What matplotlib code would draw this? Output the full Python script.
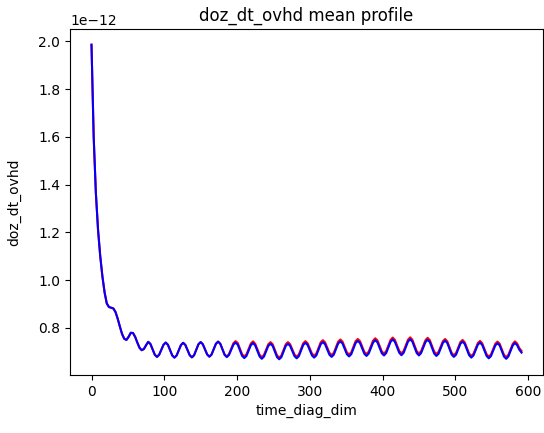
import matplotlib
matplotlib.use("Agg")
import matplotlib.pyplot as plt
import numpy as np

# time axis, one sample every 3 steps
time_diag_dim = np.arange(0, 592, 3)

# mean profiles, in units of 1e-12
blue_profile = [
    1.986, 1.600, 1.365, 1.210, 1.100, 1.015, 0.948, 0.902,
    0.887, 0.884, 0.881, 0.866, 0.838, 0.805, 0.774, 0.754,
    0.749, 0.762, 0.779, 0.778, 0.762, 0.738, 0.716, 0.706,
    0.711, 0.727, 0.741, 0.732, 0.710, 0.687, 0.678, 0.687,
    0.708, 0.729, 0.738, 0.729, 0.707, 0.684, 0.675, 0.684,
    0.706, 0.728, 0.737, 0.728, 0.707, 0.685, 0.676, 0.685,
    0.708, 0.731, 0.740, 0.731, 0.710, 0.688, 0.679, 0.688,
    0.711, 0.733, 0.742, 0.733, 0.710, 0.686, 0.677, 0.686,
    0.708, 0.729, 0.738, 0.729, 0.706, 0.682, 0.673, 0.682,
    0.705, 0.727, 0.736, 0.726, 0.703, 0.680, 0.670, 0.679,
    0.702, 0.724, 0.733, 0.724, 0.700, 0.677, 0.668, 0.677,
    0.700, 0.724, 0.733, 0.724, 0.703, 0.681, 0.672, 0.681,
    0.704, 0.728, 0.737, 0.728, 0.706, 0.684, 0.675, 0.684,
    0.708, 0.731, 0.740, 0.731, 0.709, 0.687, 0.678, 0.687,
    0.711, 0.734, 0.743, 0.734, 0.712, 0.689, 0.680, 0.689,
    0.713, 0.736, 0.745, 0.736, 0.714, 0.691, 0.682, 0.692,
    0.715, 0.738, 0.748, 0.739, 0.716, 0.693, 0.684, 0.694,
    0.718, 0.741, 0.751, 0.741, 0.718, 0.695, 0.685, 0.695,
    0.719, 0.742, 0.752, 0.742, 0.718, 0.694, 0.684, 0.694,
    0.717, 0.740, 0.750, 0.740, 0.716, 0.692, 0.682, 0.691,
    0.714, 0.737, 0.746, 0.736, 0.712, 0.688, 0.678, 0.687,
    0.710, 0.733, 0.742, 0.732, 0.709, 0.685, 0.675, 0.684,
    0.707, 0.729, 0.738, 0.728, 0.705, 0.682, 0.672, 0.681,
    0.704, 0.726, 0.735, 0.726, 0.703, 0.679, 0.670, 0.680,
    0.703, 0.726, 0.736, 0.727, 0.708, 0.696,
]

red_profile = [
    1.986, 1.600, 1.365, 1.210, 1.100, 1.015, 0.948, 0.902,
    0.887, 0.884, 0.881, 0.866, 0.838, 0.805, 0.774, 0.754,
    0.749, 0.762, 0.779, 0.778, 0.762, 0.738, 0.716, 0.706,
    0.711, 0.727, 0.741, 0.732, 0.710, 0.687, 0.678, 0.687,
    0.708, 0.729, 0.738, 0.729, 0.707, 0.684, 0.675, 0.684,
    0.706, 0.728, 0.737, 0.728, 0.707, 0.685, 0.676, 0.685,
    0.708, 0.731, 0.740, 0.731, 0.710, 0.688, 0.679, 0.688,
    0.711, 0.733, 0.742, 0.733, 0.711, 0.688, 0.680, 0.690,
    0.713, 0.735, 0.744, 0.736, 0.713, 0.689, 0.680, 0.689,
    0.712, 0.734, 0.743, 0.733, 0.710, 0.687, 0.677, 0.686,
    0.709, 0.731, 0.740, 0.731, 0.707, 0.684, 0.675, 0.684,
    0.707, 0.731, 0.740, 0.731, 0.710, 0.688, 0.679, 0.688,
    0.711, 0.735, 0.744, 0.735, 0.714, 0.692, 0.683, 0.692,
    0.716, 0.739, 0.748, 0.739, 0.717, 0.695, 0.686, 0.695,
    0.719, 0.742, 0.751, 0.742, 0.720, 0.697, 0.688, 0.697,
    0.721, 0.744, 0.753, 0.744, 0.722, 0.699, 0.690, 0.700,
    0.723, 0.746, 0.756, 0.747, 0.724, 0.701, 0.692, 0.702,
    0.726, 0.749, 0.759, 0.749, 0.726, 0.703, 0.693, 0.703,
    0.727, 0.750, 0.760, 0.750, 0.726, 0.702, 0.692, 0.702,
    0.725, 0.748, 0.758, 0.748, 0.724, 0.700, 0.690, 0.699,
    0.721, 0.744, 0.753, 0.743, 0.719, 0.695, 0.685, 0.694,
    0.717, 0.740, 0.749, 0.739, 0.716, 0.692, 0.682, 0.691,
    0.714, 0.736, 0.745, 0.735, 0.712, 0.689, 0.679, 0.688,
    0.711, 0.733, 0.742, 0.733, 0.710, 0.686, 0.677, 0.687,
    0.710, 0.733, 0.743, 0.734, 0.715, 0.703,
]

fig = plt.figure(figsize=(5.44, 4.33), dpi=100)
ax = fig.add_axes([70 / 544, 58 / 433, 473 / 544, 346 / 433])
ax.plot(time_diag_dim, np.array(red_profile) * 1e-12, color="red")
ax.plot(time_diag_dim, np.array(blue_profile) * 1e-12, color="blue")
ax.set_title("doz_dt_ovhd mean profile")
ax.set_xlabel("time_diag_dim")
ax.set_ylabel("doz_dt_ovhd")
ax.yaxis.set_label_coords(-0.104, 0.5)
fig.savefig("out.png", dpi=100)
plt.close(fig)
